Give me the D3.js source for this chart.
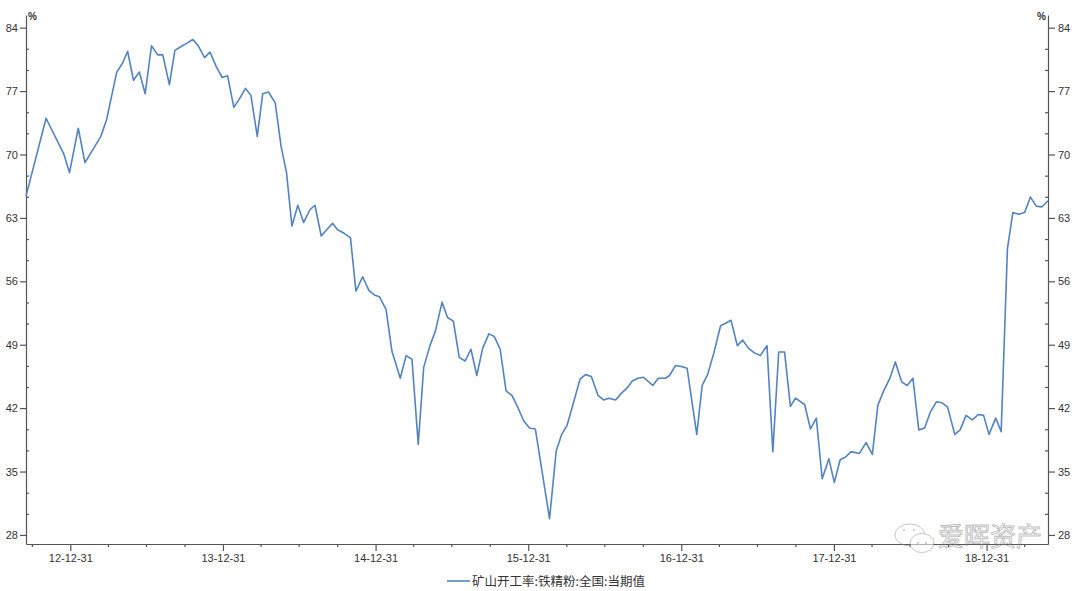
<!DOCTYPE html>
<html><head><meta charset="utf-8">
<script src="https://cdn.jsdelivr.net/npm/d3@7"></script>
<style>
html,body{margin:0;padding:0;background:#fff;}
svg{display:block;}
</style></head>
<body>
<svg id="chart" width="1080" height="591"></svg>
<script>
const seriesName = "矿山开工率:铁精粉:全国:当期值";
const dates = [
"2012-09-16","2012-11-03","2012-12-15","2012-12-29","2013-01-19","2013-02-04","2013-03-14","2013-03-28",
"2013-04-21","2013-05-05","2013-05-17","2013-05-31","2013-06-14","2013-06-28","2013-07-13","2013-07-28",
"2013-08-09","2013-08-25","2013-09-07","2013-09-21","2013-10-06","2013-10-20","2013-11-02","2013-11-17",
"2013-11-30","2013-12-15","2013-12-29","2014-01-11","2014-01-26","2014-02-09","2014-02-23","2014-03-08",
"2014-03-23","2014-04-05","2014-04-19","2014-05-05","2014-05-19","2014-06-01","2014-06-14","2014-06-28",
"2014-07-12","2014-07-27","2014-08-08","2014-08-23","2014-09-19","2014-10-01","2014-10-17","2014-11-01",
"2014-11-14","2014-11-30","2014-12-15","2014-12-28","2015-01-09","2015-01-25","2015-02-08","2015-02-28",
"2015-03-14","2015-03-28","2015-04-12","2015-04-25","2015-05-10","2015-05-23","2015-06-08","2015-06-21",
"2015-07-05","2015-07-19","2015-08-02","2015-08-16","2015-08-30","2015-09-13","2015-09-28","2015-10-11",
"2015-10-25","2015-11-08","2015-11-22","2015-12-06","2015-12-20","2016-01-03","2016-01-17","2016-02-20",
"2016-03-07","2016-03-20","2016-04-02","2016-04-16","2016-05-03","2016-05-16","2016-05-30","2016-06-15",
"2016-06-28","2016-07-11","2016-07-27","2016-08-09","2016-08-23","2016-09-05","2016-09-18","2016-10-02",
"2016-10-24","2016-11-06","2016-11-23","2016-12-03","2016-12-17","2016-12-31","2017-01-14","2017-02-06",
"2017-02-19","2017-03-04","2017-03-19","2017-04-04","2017-04-17","2017-04-29","2017-05-14","2017-05-27",
"2017-06-10","2017-06-24","2017-07-08","2017-07-24","2017-08-07","2017-08-21","2017-09-04","2017-09-18",
"2017-09-30","2017-10-22","2017-11-05","2017-11-19","2017-12-03","2017-12-19","2018-01-01","2018-01-15",
"2018-01-28","2018-02-10","2018-03-02","2018-03-18","2018-04-02","2018-04-15","2018-04-29","2018-05-13",
"2018-05-27","2018-06-11","2018-06-24","2018-07-08","2018-07-22","2018-08-05","2018-08-18","2018-09-02",
"2018-09-15","2018-09-29","2018-10-16","2018-10-29","2018-11-12","2018-11-27","2018-12-12","2018-12-24",
"2019-01-06","2019-01-22","2019-02-04","2019-02-19","2019-03-04","2019-03-18","2019-04-01","2019-04-15",
"2019-04-29","2019-05-12","2019-05-27"
];
const values = [
65.4,74.0,70.1,68.0,72.9,69.1,72.0,73.9,
79.1,80.1,81.4,78.2,79.1,76.7,82.0,81.0,
81.0,77.7,81.5,81.9,82.3,82.7,82.0,80.7,
81.3,79.7,78.5,78.7,75.2,76.2,77.3,76.5,
72.0,76.7,76.9,75.7,70.9,68.0,62.1,64.4,
62.5,63.9,64.4,61.0,62.4,61.7,61.3,60.8,
54.9,56.5,55.0,54.5,54.3,52.9,48.3,45.3,
47.8,47.4,38.0,46.5,48.9,50.5,53.7,52.0,
51.6,47.6,47.2,48.5,45.6,48.6,50.2,49.9,
48.5,43.9,43.4,42.1,40.6,39.8,39.7,29.8,
37.3,39.1,40.1,42.4,45.2,45.7,45.5,43.4,
42.9,43.1,42.9,43.6,44.2,45.0,45.3,45.4,
44.5,45.3,45.3,45.6,46.7,46.6,46.4,39.1,
44.5,45.7,48.1,51.1,51.4,51.7,48.9,49.5,
48.6,48.1,47.8,48.9,37.2,48.2,48.2,42.2,
43.1,42.4,39.7,40.9,34.2,36.4,33.8,36.3,
36.6,37.2,37.0,38.2,36.9,42.3,43.9,45.2,
47.1,44.9,44.5,45.3,39.6,39.8,41.5,42.7,
42.6,42.1,39.1,39.6,41.2,40.7,41.3,41.2,
39.1,40.9,39.4,59.6,63.6,63.4,63.6,65.3,
64.3,64.2,64.9
];
const yTickValues = [28,35,42,49,56,63,70,77,84];
const xTickLabels = ["12-12-31","13-12-31","14-12-31","15-12-31","16-12-31","17-12-31","18-12-31"];
const yDomain = [27, 85.4];
const unitLabel = "%";
const watermark = "爱晖资产";

(function(){
const parse = d3.timeParse("%Y-%m-%d");
const data = dates.map((d,i)=>({date:parse(d), value:values[i]}));

const svg = d3.select("#chart");
const mLeft = 26, mRight = 1048, mTop = 15, mBottom = 544;
const axisColor = "#555";
const lineColor = "#5383c2";
const font = "'Liberation Sans', Arial, sans-serif";

const x = d3.scaleTime().domain(d3.extent(data, d=>d.date)).range([mLeft, mRight]);
const y = d3.scaleLinear().domain(yDomain).range([mBottom, mTop]);

const minorY = [];
for (let i=0;i<yTickValues.length-1;i++){
  const a=yTickValues[i], b=yTickValues[i+1];
  minorY.push(a+(b-a)/3, a+2*(b-a)/3);
}

function styleAxis(g){
  g.selectAll("path,line").attr("stroke", axisColor).attr("stroke-width",1.2);
  g.selectAll("text").attr("fill","#333").attr("font-family",font).attr("font-size","11px");
}

const gL = svg.append("g").attr("transform",`translate(${mLeft},0)`)
  .call(d3.axisLeft(y).tickValues(yTickValues).tickSize(6).tickSizeOuter(0).tickPadding(2).tickFormat(d3.format("d")));
styleAxis(gL);
const gLm = svg.append("g").attr("transform",`translate(${mLeft},0)`)
  .call(d3.axisRight(y).tickValues(minorY).tickSize(3).tickFormat(""));
gLm.select("path").remove();
styleAxis(gLm);

const gR = svg.append("g").attr("transform",`translate(${mRight},0)`)
  .call(d3.axisRight(y).tickValues(yTickValues).tickSize(7).tickSizeOuter(0).tickPadding(3).tickFormat(d3.format("d")));
styleAxis(gR);
const gRm = svg.append("g").attr("transform",`translate(${mRight},0)`)
  .call(d3.axisLeft(y).tickValues(minorY).tickSize(3).tickFormat(""));
gRm.select("path").remove();
styleAxis(gRm);

const [d0,d1] = x.domain();
const yearEnds = xTickLabels.map(s=>new Date(2000+ +s.slice(0,2), 11, 31));
const quarterEnds = d3.timeMonth.every(3).range(new Date(2012,0,1), d1)
  .map(m=>d3.timeDay.offset(m,-1)).filter(d=>d>=d0 && d<=d1 && d.getMonth()!==11);
const gX = svg.append("g").attr("transform",`translate(0,${mBottom})`)
  .call(d3.axisBottom(x).tickValues(yearEnds).tickSize(7).tickSizeOuter(0).tickPadding(3)
    .tickFormat((d,i)=>xTickLabels[i]));
styleAxis(gX);
const gXm = svg.append("g").attr("transform",`translate(0,${mBottom})`)
  .call(d3.axisBottom(x).tickValues(quarterEnds).tickSize(3).tickFormat(""));
gXm.select("path").remove();
styleAxis(gXm);

svg.append("text").attr("x",mLeft+2).attr("y",20).text(unitLabel)
  .attr("font-family",font).attr("font-size","10px").attr("font-weight","bold").attr("fill","#333");
svg.append("text").attr("x",mRight-2).attr("y",20).attr("text-anchor","end").text(unitLabel)
  .attr("font-family",font).attr("font-size","10px").attr("font-weight","bold").attr("fill","#333");

svg.append("path").datum(data)
  .attr("fill","none").attr("stroke",lineColor).attr("stroke-width",1.6).attr("stroke-linejoin","round")
  .attr("d", d3.line().x(d=>x(d.date)).y(d=>y(d.value)));

const wm = svg.append("g").attr("opacity",0.55);
wm.append("ellipse").attr("cx",910).attr("cy",535).attr("rx",15).attr("ry",11)
  .attr("fill","none").attr("stroke","#999").attr("stroke-width",1);
wm.append("ellipse").attr("cx",922).attr("cy",543).attr("rx",12).attr("ry",9.5)
  .attr("fill","#fff").attr("stroke","#999").attr("stroke-width",1);
[[904,530],[914,530],[918,543],[926,543]].forEach(p=>wm.append("circle").attr("cx",p[0]).attr("cy",p[1]).attr("r",1).attr("fill","#999"));
wm.append("text").attr("x",938).attr("y",546).text(watermark)
  .attr("font-family","'Noto Sans CJK SC', sans-serif").attr("font-size","26px")
  .attr("fill","none").attr("stroke","#888").attr("stroke-width",0.9);

const lg = svg.append("g").attr("transform","translate(447,581)");
lg.append("line").attr("x1",0).attr("x2",23).attr("y1",0).attr("y2",0).attr("stroke",lineColor).attr("stroke-width",1.6);
lg.append("text").attr("x",25).attr("y",4.5).text(seriesName)
  .attr("font-family","'Noto Sans CJK SC', sans-serif").attr("font-size","12.5px").attr("fill","#333");
})();
</script>
</body></html>
